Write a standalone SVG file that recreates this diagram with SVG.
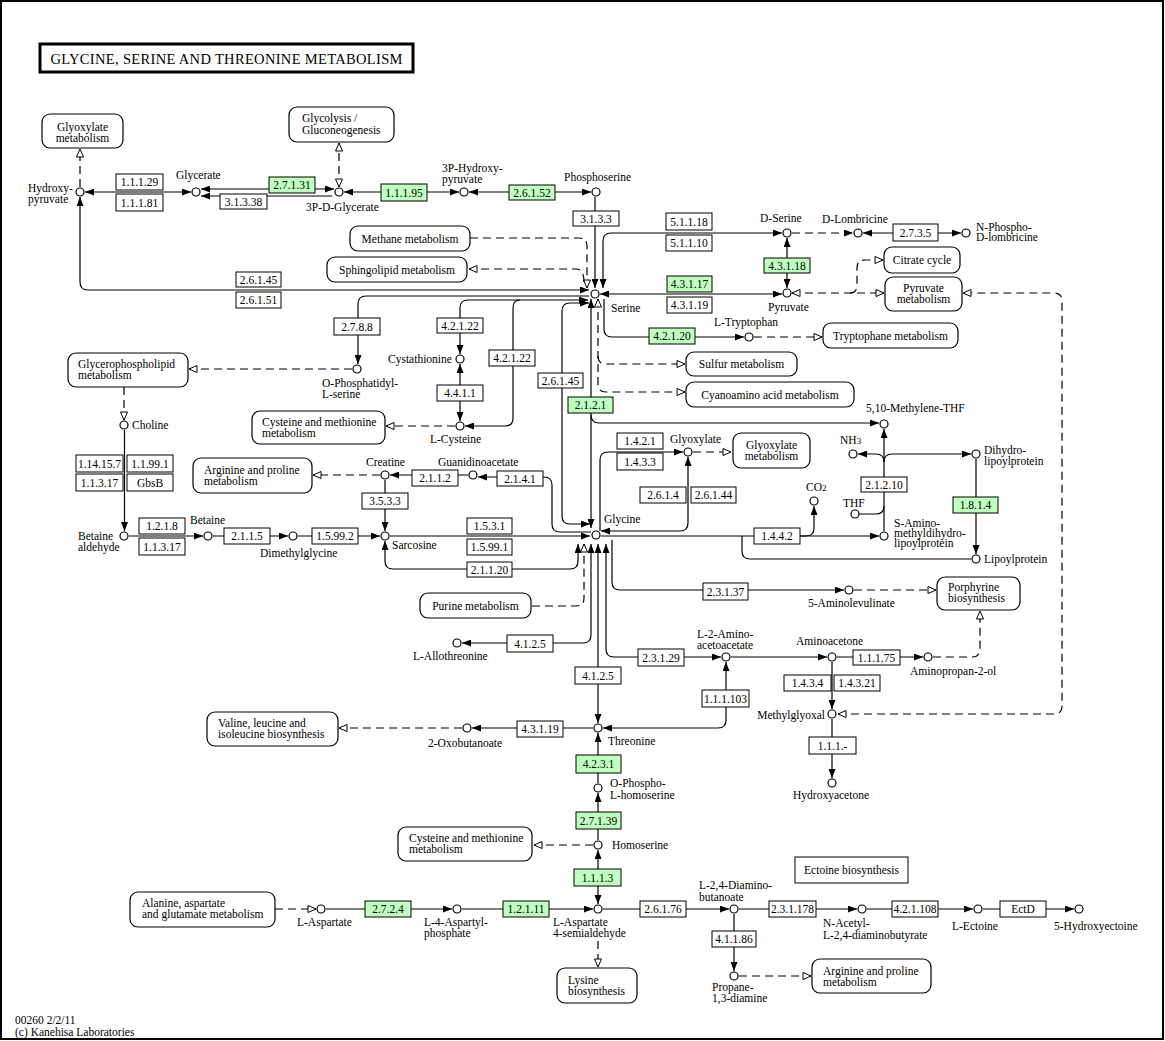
<svg xmlns="http://www.w3.org/2000/svg" width="1165" height="1041" viewBox="0 0 1165 1041">
<defs>
<style>
text{font-family:"Liberation Serif","Times New Roman",serif;font-size:11.5px;fill:#000}
.t{text-anchor:middle}
.r{text-anchor:end}
.ttl{font-size:14.5px}
.c{fill:#fff;stroke:#000;stroke-width:1.2}
.e{fill:#fff;stroke:#000;stroke-width:1}
.g{fill:#bfffbf;stroke:#000;stroke-width:1}
.m{fill:#fff;stroke:#000;stroke-width:1.2}
.ln{fill:none;stroke:#000;stroke-width:1.2}
.d{stroke-dasharray:8,5}
.fe{marker-end:url(#f)}
.fs{marker-start:url(#f)}
.oe{marker-end:url(#o)}
.os{marker-start:url(#o)}
</style>
<marker id="f" viewBox="0 0 9 7" refX="9" refY="3.5" markerWidth="9" markerHeight="7" markerUnits="userSpaceOnUse" orient="auto-start-reverse"><path d="M0,0L9,3.5L0,7z" fill="#000"/></marker>
<marker id="o" viewBox="-1 -1 10 9" refX="8" refY="3.5" markerWidth="10" markerHeight="9" markerUnits="userSpaceOnUse" orient="auto-start-reverse"><path d="M0,0L8,3.5L0,7z" fill="#fff" stroke="#000" stroke-width="1"/></marker>
</defs>
<rect x="0" y="0" width="1165" height="1041" fill="#fff"/>
<rect x="1" y="1" width="1162" height="1038" fill="none" stroke="#000" stroke-width="2"/>
<g id="title"><rect x="40" y="44" width="373" height="28" fill="#fff" stroke="#000" stroke-width="3"/><text x="226.5" y="64" class="t ttl" textLength="352" lengthAdjust="spacing">GLYCINE, SERINE AND THREONINE METABOLISM</text></g>

<g id="edges">
<path class="ln d oe" d="M80,187V149"/>
<path class="ln fs fe" d="M85,192H191"/>
<path class="ln fs fe" d="M201,189H334"/>
<path class="ln fs" d="M201,196H332"/>
<path class="ln d os oe" d="M339,187V143"/>
<path class="ln fs fe" d="M344,192H459"/>
<path class="ln fs fe" d="M469,192H591"/>
<path class="ln fe" d="M595,197V288"/>
<path class="ln fs fe" d="M603,288V241Q603,233 611,233H782"/>
<path class="ln d fe" d="M792,233H853"/>
<path class="ln fs fe" d="M863,233H961"/>
<path class="ln fs fe" d="M787,238V288"/>
<path class="ln fs fe" d="M600,294H782"/>
<path class="ln d os oe" d="M792,293H884"/>
<path class="ln d oe" d="M850,293Q857,293 857,285V268Q857,260 865,260H883"/>
<path class="ln fe" d="M604,299V329Q604,337 612,337H744"/>
<path class="ln d oe" d="M754,337H822"/>
<path class="ln d oe" d="M470,238H579Q587,238 587,246V288"/>
<path class="ln d oe" d="M584,282Q584,269 576,269H469"/>
<path class="ln fs fe" d="M80,197V282Q80,290 88,290H589"/>
<path class="ln fe" d="M589,296H366Q358,296 358,304V364"/>
<path class="ln d oe" d="M352,369H189"/>
<path class="ln d oe" d="M124,387V420"/>
<path class="ln fe" d="M124.5,430V531"/>
<path class="ln fe" d="M129,536H203"/>
<path class="ln fe" d="M213,536H288"/>
<path class="ln fe" d="M298,536H380"/>
<path class="ln fe" d="M385,480V531"/>
<path class="ln fe" d="M468,475H390"/>
<path class="ln fe" d="M591,532H560Q552,532 552,524V485Q552,477 544,477H478"/>
<path class="ln d oe" d="M380,475H313"/>
<path class="ln fe" d="M390,536H590"/>
<path class="ln fs fe" d="M385,541V561Q385,569 393,569H570Q578,569 578,561V544"/>
<path class="ln fs fe" d="M589,303H570Q562,303 562,311V516Q562,524 570,524H590"/>
<path class="ln fs fe" d="M591,299V528"/>
<path class="ln fe" d="M591,415Q591,423 599,423H879"/>
<path class="ln d os oe" d="M598,299V384Q598,392 606,392H685"/>
<path class="ln d oe" d="M598,356Q598,364 606,364H685"/>
<path class="ln fs fe" d="M588,300H468Q460,300 460,308V354"/>
<path class="ln fe" d="M520,300Q513,300 513,308V418Q513,426 505,426H465"/>
<path class="ln fs fe" d="M460,364V421"/>
<path class="ln d oe" d="M455,426H386"/>
<path class="ln fe" d="M600,531V460Q600,452 608,452H683"/>
<path class="ln fs fe" d="M688,457V523Q688,531 680,531H601"/>
<path class="ln d oe" d="M693,452H731"/>
<path class="ln fe" d="M601,536H879"/>
<path class="ln fe" d="M800,536H806Q814,536 814,528V506"/>
<path class="ln" d="M742,536V551Q742,559 750,559H971"/>
<path class="ln fe" d="M884,531V429"/>
<path class="ln fe" d="M884,462Q884,454 876,454H858"/>
<path class="ln fe" d="M884,462Q884,454 892,454H971"/>
<path class="ln" d="M859,514H876Q884,514 884,506"/>
<path class="ln fe" d="M976,459V554"/>
<path class="ln fe" d="M612,540V582Q612,590 620,590H844"/>
<path class="ln d oe" d="M854,590H936"/>
<path class="ln d oe" d="M532,606H576Q584,606 584,598V544"/>
<path class="ln fs fe" d="M591,544V635Q591,643 583,643H462"/>
<path class="ln fs fe" d="M598,544V723"/>
<path class="ln fs fe" d="M606,544V649Q606,657 614,657H721"/>
<path class="ln fs fe" d="M726,662V720Q726,728 718,728H603"/>
<path class="ln fe" d="M731,657H827"/>
<path class="ln fe" d="M837,657H923"/>
<path class="ln d oe" d="M933,657H972Q980,657 980,649V611"/>
<path class="ln fe" d="M832,662V709"/>
<path class="ln d os oe" d="M838,714H1054Q1062,714 1062,706V301Q1062,293 1054,293H963"/>
<path class="ln fe" d="M832,719V778"/>
<path class="ln fe" d="M593,728H472"/>
<path class="ln d oe" d="M462,728H339"/>
<path class="ln fe" d="M598,783V733"/>
<path class="ln fe" d="M598,840V793"/>
<path class="ln d oe" d="M593,845H534"/>
<path class="ln fs fe" d="M598,850V904"/>
<path class="ln d oe" d="M275,909H316"/>
<path class="ln fe" d="M326,909H452"/>
<path class="ln fe" d="M462,909H593"/>
<path class="ln d oe" d="M598,941V967"/>
<path class="ln fe" d="M603,909H729"/>
<path class="ln fe" d="M739,909H857"/>
<path class="ln fe" d="M867,909H973"/>
<path class="ln fe" d="M983,909H1074"/>
<path class="ln fe" d="M734,914V971"/>
<path class="ln d oe" d="M739,976H811"/>
</g>

<g id="maps">
<g id="map-glyoxylate1"><rect class="m" x="42" y="114" width="81" height="34" rx="8"/><text class="t" x="82.5" y="130.5">Glyoxylate</text><text class="t" x="82.5" y="141.5">metabolism</text></g>
<g id="map-glycolysis"><rect class="m" x="289" y="107" width="105" height="35" rx="8"/><text x="302" y="122">Glycolysis /</text><text x="302" y="134">Gluconeogenesis</text></g>
<g id="map-methane"><rect class="m" x="350" y="226" width="120" height="25" rx="8"/><text class="t" x="410" y="242.5">Methane metabolism</text></g>
<g id="map-sphingolipid"><rect class="m" x="327" y="257" width="140" height="25" rx="8"/><text class="t" x="397" y="273.5">Sphingolipid metabolism</text></g>
<g id="map-citrate"><rect class="m" x="884" y="247" width="76" height="26" rx="8"/><text class="t" x="922" y="264">Citrate cycle</text></g>
<g id="map-pyruvate"><rect class="m" x="885" y="277" width="77" height="34" rx="8"/><text class="t" x="923.5" y="292">Pyruvate</text><text class="t" x="923.5" y="303">metabolism</text></g>
<g id="map-tryptophane"><rect class="m" x="823" y="323" width="135" height="25" rx="8"/><text class="t" x="890.5" y="340">Tryptophane metabolism</text></g>
<g id="map-glycerophospholipid"><rect class="m" x="68" y="353" width="120" height="34" rx="8"/><text x="78" y="368">Glycerophospholipid</text><text x="78" y="379">metabolism</text></g>
<g id="map-sulfur"><rect class="m" x="686" y="352" width="111" height="24" rx="8"/><text class="t" x="741.5" y="368">Sulfur metabolism</text></g>
<g id="map-cyanoamino"><rect class="m" x="686" y="382" width="168" height="25" rx="8"/><text class="t" x="770" y="398.5">Cyanoamino acid metabolism</text></g>
<g id="map-cysmet1"><rect class="m" x="252" y="411" width="133" height="33" rx="8"/><text x="262" y="426">Cysteine and methionine</text><text x="262" y="437">metabolism</text></g>
<g id="map-glyoxylate2"><rect class="m" x="733" y="433" width="77" height="35" rx="8"/><text class="t" x="771.5" y="449">Glyoxylate</text><text class="t" x="771.5" y="460">metabolism</text></g>
<g id="map-argpro1"><rect class="m" x="193" y="458" width="119" height="35" rx="8"/><text x="204" y="474">Arginine and proline</text><text x="204" y="485">metabolism</text></g>
<g id="map-porphyrine"><rect class="m" x="937" y="577" width="83" height="33" rx="8"/><text x="948" y="591">Porphyrine</text><text x="948" y="602">biosynthesis</text></g>
<g id="map-purine"><rect class="m" x="420" y="593" width="111" height="25" rx="8"/><text class="t" x="475.5" y="609.5">Purine metabolism</text></g>
<g id="map-valine"><rect class="m" x="207" y="712" width="131" height="34" rx="8"/><text x="218" y="727">Valine, leucine and</text><text x="218" y="738">isoleucine biosynthesis</text></g>
<g id="map-cysmet2"><rect class="m" x="398" y="827" width="134" height="34" rx="8"/><text x="409" y="842">Cysteine and methionine</text><text x="409" y="853">metabolism</text></g>
<g id="map-alanine"><rect class="m" x="130" y="892" width="145" height="35" rx="8"/><text x="142" y="907">Alanine, aspartate</text><text x="142" y="918">and glutamate metabolism</text></g>
<g id="map-lysine"><rect class="m" x="557" y="968" width="80" height="35" rx="8"/><text x="568" y="984">Lysine</text><text x="568" y="995">biosynthesis</text></g>
<g id="map-argpro2"><rect class="m" x="812" y="959" width="119" height="34" rx="8"/><text x="823" y="975">Arginine and proline</text><text x="823" y="986">metabolism</text></g>
<g id="map-ectoine"><rect class="e" x="795" y="857" width="113" height="26"/><text class="t" x="851.5" y="874">Ectoine biosynthesis</text></g>
</g>

<g id="enzymes">
<g id="ec-1-1-1-29"><rect class="e" x="116" y="174" width="47" height="16"/><text class="t" x="139.5" y="186">1.1.1.29</text></g>
<g id="ec-1-1-1-81"><rect class="e" x="116" y="194" width="47" height="17"/><text class="t" x="139.5" y="206.5">1.1.1.81</text></g>
<g id="ec-2-7-1-31"><rect class="g" x="269" y="177" width="46" height="16"/><text class="t" x="292" y="189">2.7.1.31</text></g>
<g id="ec-3-1-3-38"><rect class="e" x="220" y="194" width="47" height="15"/><text class="t" x="243.5" y="205.5">3.1.3.38</text></g>
<g id="ec-1-1-1-95"><rect class="g" x="381" y="184" width="46" height="17"/><text class="t" x="404" y="196.5">1.1.1.95</text></g>
<g id="ec-2-6-1-52"><rect class="g" x="509" y="185" width="46" height="15"/><text class="t" x="532" y="196.5">2.6.1.52</text></g>
<g id="ec-3-1-3-3"><rect class="e" x="573" y="211" width="46" height="15"/><text class="t" x="596" y="222.5">3.1.3.3</text></g>
<g id="ec-5-1-1-18"><rect class="e" x="666" y="213" width="46" height="17"/><text class="t" x="689" y="225.5">5.1.1.18</text></g>
<g id="ec-5-1-1-10"><rect class="e" x="666" y="235" width="46" height="16"/><text class="t" x="689" y="247">5.1.1.10</text></g>
<g id="ec-4-3-1-18"><rect class="g" x="764" y="258" width="46" height="15"/><text class="t" x="787" y="269.5">4.3.1.18</text></g>
<g id="ec-2-7-3-5"><rect class="e" x="893" y="224" width="45" height="17"/><text class="t" x="915.5" y="236.5">2.7.3.5</text></g>
<g id="ec-4-3-1-17"><rect class="g" x="667" y="276" width="45" height="16"/><text class="t" x="689.5" y="288">4.3.1.17</text></g>
<g id="ec-4-3-1-19-a"><rect class="e" x="667" y="297" width="45" height="16"/><text class="t" x="689.5" y="309">4.3.1.19</text></g>
<g id="ec-2-6-1-45-a"><rect class="e" x="236" y="272" width="45" height="15"/><text class="t" x="258.5" y="283.5">2.6.1.45</text></g>
<g id="ec-2-6-1-51"><rect class="e" x="236" y="292" width="45" height="16"/><text class="t" x="258.5" y="304">2.6.1.51</text></g>
<g id="ec-2-7-8-8"><rect class="e" x="334" y="318" width="46" height="17"/><text class="t" x="357" y="330.5">2.7.8.8</text></g>
<g id="ec-4-2-1-22-a"><rect class="e" x="437" y="318" width="46" height="15"/><text class="t" x="460" y="329.5">4.2.1.22</text></g>
<g id="ec-4-2-1-20"><rect class="g" x="649" y="328" width="46" height="16"/><text class="t" x="672" y="340">4.2.1.20</text></g>
<g id="ec-4-2-1-22-b"><rect class="e" x="489" y="350" width="46" height="16"/><text class="t" x="512" y="362">4.2.1.22</text></g>
<g id="ec-2-6-1-45-b"><rect class="e" x="538" y="373" width="45" height="15"/><text class="t" x="560.5" y="384.5">2.6.1.45</text></g>
<g id="ec-4-4-1-1"><rect class="e" x="437" y="385" width="46" height="16"/><text class="t" x="460" y="397">4.4.1.1</text></g>
<g id="ec-2-1-2-1"><rect class="g" x="568" y="397" width="45" height="16"/><text class="t" x="590.5" y="409">2.1.2.1</text></g>
<g id="ec-1-4-2-1"><rect class="e" x="617" y="433" width="46" height="16"/><text class="t" x="640" y="445">1.4.2.1</text></g>
<g id="ec-1-4-3-3"><rect class="e" x="617" y="453" width="46" height="17"/><text class="t" x="640" y="465.5">1.4.3.3</text></g>
<g id="ec-1-14-15-7"><rect class="e" x="76" y="455" width="47" height="17"/><text class="t" x="99.5" y="467.5">1.14.15.7</text></g>
<g id="ec-1-1-99-1"><rect class="e" x="127" y="455" width="46" height="17"/><text class="t" x="150" y="467.5">1.1.99.1</text></g>
<g id="ec-1-1-3-17-a"><rect class="e" x="76" y="474" width="47" height="17"/><text class="t" x="99.5" y="486.5">1.1.3.17</text></g>
<g id="ec-gbsb"><rect class="e" x="127" y="474" width="46" height="17"/><text class="t" x="150" y="486.5">GbsB</text></g>
<g id="ec-2-1-1-2"><rect class="e" x="412" y="470" width="46" height="16"/><text class="t" x="435" y="482">2.1.1.2</text></g>
<g id="ec-2-1-4-1"><rect class="e" x="497" y="471" width="46" height="15"/><text class="t" x="520" y="482.5">2.1.4.1</text></g>
<g id="ec-2-6-1-4"><rect class="e" x="640" y="487" width="46" height="16"/><text class="t" x="663" y="499">2.6.1.4</text></g>
<g id="ec-2-6-1-44"><rect class="e" x="691" y="487" width="45" height="16"/><text class="t" x="713.5" y="499">2.6.1.44</text></g>
<g id="ec-3-5-3-3"><rect class="e" x="362" y="493" width="46" height="16"/><text class="t" x="385" y="505">3.5.3.3</text></g>
<g id="ec-2-1-2-10"><rect class="e" x="861" y="477" width="46" height="15"/><text class="t" x="884" y="488.5">2.1.2.10</text></g>
<g id="ec-1-8-1-4"><rect class="g" x="953" y="497" width="45" height="16"/><text class="t" x="975.5" y="509">1.8.1.4</text></g>
<g id="ec-1-2-1-8"><rect class="e" x="139" y="518" width="46" height="16"/><text class="t" x="162" y="530">1.2.1.8</text></g>
<g id="ec-1-1-3-17-b"><rect class="e" x="139" y="538" width="46" height="17"/><text class="t" x="162" y="550.5">1.1.3.17</text></g>
<g id="ec-1-5-3-1"><rect class="e" x="467" y="518" width="45" height="16"/><text class="t" x="489.5" y="530">1.5.3.1</text></g>
<g id="ec-1-5-99-1"><rect class="e" x="467" y="539" width="45" height="16"/><text class="t" x="489.5" y="551">1.5.99.1</text></g>
<g id="ec-2-1-1-5"><rect class="e" x="224" y="528" width="46" height="16"/><text class="t" x="247" y="540">2.1.1.5</text></g>
<g id="ec-1-5-99-2"><rect class="e" x="312" y="528" width="46" height="16"/><text class="t" x="335" y="540">1.5.99.2</text></g>
<g id="ec-1-4-4-2"><rect class="e" x="754" y="528" width="46" height="16"/><text class="t" x="777" y="540">1.4.4.2</text></g>
<g id="ec-2-1-1-20"><rect class="e" x="467" y="562" width="45" height="15"/><text class="t" x="489.5" y="573.5">2.1.1.20</text></g>
<g id="ec-2-3-1-37"><rect class="e" x="703" y="583" width="45" height="17"/><text class="t" x="725.5" y="595.5">2.3.1.37</text></g>
<g id="ec-4-1-2-5-a"><rect class="e" x="507" y="635" width="46" height="17"/><text class="t" x="530" y="647.5">4.1.2.5</text></g>
<g id="ec-2-3-1-29"><rect class="e" x="638" y="649" width="46" height="17"/><text class="t" x="661" y="661.5">2.3.1.29</text></g>
<g id="ec-1-1-1-75"><rect class="e" x="853" y="650" width="47" height="15"/><text class="t" x="876.5" y="661.5">1.1.1.75</text></g>
<g id="ec-4-1-2-5-b"><rect class="e" x="575" y="667" width="46" height="17"/><text class="t" x="598" y="679.5">4.1.2.5</text></g>
<g id="ec-1-4-3-4"><rect class="e" x="784" y="675" width="47" height="16"/><text class="t" x="807.5" y="687">1.4.3.4</text></g>
<g id="ec-1-4-3-21"><rect class="e" x="834" y="675" width="46" height="16"/><text class="t" x="857" y="687">1.4.3.21</text></g>
<g id="ec-1-1-1-103"><rect class="e" x="702" y="690" width="47" height="17"/><text class="t" x="725.5" y="702.5">1.1.1.103</text></g>
<g id="ec-4-3-1-19-b"><rect class="e" x="517" y="721" width="46" height="16"/><text class="t" x="540" y="733">4.3.1.19</text></g>
<g id="ec-1-1-1-x"><rect class="e" x="809" y="737" width="47" height="17"/><text class="t" x="832.5" y="749.5">1.1.1.-</text></g>
<g id="ec-4-2-3-1"><rect class="g" x="576" y="755" width="45" height="18"/><text class="t" x="598.5" y="768">4.2.3.1</text></g>
<g id="ec-2-7-1-39"><rect class="g" x="576" y="812" width="45" height="17"/><text class="t" x="598.5" y="824.5">2.7.1.39</text></g>
<g id="ec-1-1-1-3"><rect class="g" x="574" y="869" width="47" height="17"/><text class="t" x="597.5" y="881.5">1.1.1.3</text></g>
<g id="ec-2-7-2-4"><rect class="g" x="365" y="901" width="46" height="16"/><text class="t" x="388" y="913">2.7.2.4</text></g>
<g id="ec-1-2-1-11"><rect class="g" x="503" y="901" width="46" height="16"/><text class="t" x="526" y="913">1.2.1.11</text></g>
<g id="ec-2-6-1-76"><rect class="e" x="640" y="901" width="46" height="16"/><text class="t" x="663" y="913">2.6.1.76</text></g>
<g id="ec-2-3-1-178"><rect class="e" x="769" y="901" width="47" height="16"/><text class="t" x="792.5" y="913">2.3.1.178</text></g>
<g id="ec-4-2-1-108"><rect class="e" x="892" y="901" width="46" height="16"/><text class="t" x="915" y="913">4.2.1.108</text></g>
<g id="ec-ectd"><rect class="e" x="1000" y="901" width="46" height="16"/><text class="t" x="1023" y="913">EctD</text></g>
<g id="ec-4-1-1-86"><rect class="e" x="712" y="931" width="44" height="16"/><text class="t" x="734" y="943">4.1.1.86</text></g>
</g>

<g id="compounds">
<g id="c-hydroxypyruvate"><circle class="c" cx="80" cy="192" r="4"/><text x="28" y="192">Hydroxy-</text><text x="28" y="203">pyruvate</text></g>
<g id="c-glycerate"><circle class="c" cx="196" cy="192" r="4"/><text x="176" y="179">Glycerate</text></g>
<g id="c-3pg"><circle class="c" cx="339" cy="192" r="4"/><text x="306" y="211">3P-D-Glycerate</text></g>
<g id="c-3php"><circle class="c" cx="464" cy="192" r="4"/><text x="442" y="172">3P-Hydroxy-</text><text x="442" y="183">pyruvate</text></g>
<g id="c-phosphoserine"><circle class="c" cx="596" cy="192" r="4"/><text x="564" y="181">Phosphoserine</text></g>
<g id="c-serine"><circle class="c" cx="595" cy="294" r="4"/><text x="611" y="312">Serine</text></g>
<g id="c-dserine"><circle class="c" cx="787" cy="233" r="4"/><text x="760" y="222">D-Serine</text></g>
<g id="c-dlombricine"><circle class="c" cx="858" cy="233" r="4"/><text x="822" y="223">D-Lombricine</text></g>
<g id="c-nphospho"><circle class="c" cx="966" cy="233" r="4"/><text x="976" y="231">N-Phospho-</text><text x="976" y="241">D-lombricine</text></g>
<g id="c-pyruvate"><circle class="c" cx="787" cy="293" r="4"/><text x="768" y="311">Pyruvate</text></g>
<g id="c-ltryptophan"><circle class="c" cx="749" cy="337" r="4"/><text x="714" y="326">L-Tryptophan</text></g>
<g id="c-ophosphatidyl"><circle class="c" cx="357" cy="369" r="4"/><text x="322" y="387">O-Phosphatidyl-</text><text x="322" y="398">L-serine</text></g>
<g id="c-cystathionine"><circle class="c" cx="460" cy="359" r="4"/><text x="388" y="363">Cystathionine</text></g>
<g id="c-lcysteine"><circle class="c" cx="460" cy="426" r="4"/><text x="430" y="443">L-Cysteine</text></g>
<g id="c-choline"><circle class="c" cx="124" cy="425" r="4"/><text x="132" y="429">Choline</text></g>
<g id="c-creatine"><circle class="c" cx="385" cy="475" r="4"/><text x="366" y="466">Creatine</text></g>
<g id="c-guanidinoacetate"><circle class="c" cx="473" cy="475" r="4"/><text x="438" y="466">Guanidinoacetate</text></g>
<g id="c-glycine"><circle class="c" cx="596" cy="535" r="4"/><text x="604" y="523">Glycine</text></g>
<g id="c-sarcosine"><circle class="c" cx="385" cy="536" r="4"/><text x="392" y="549">Sarcosine</text></g>
<g id="c-betainealdehyde"><circle class="c" cx="124" cy="536" r="4"/><text x="78" y="540">Betaine</text><text x="78" y="551">aldehyde</text></g>
<g id="c-betaine"><circle class="c" cx="208" cy="536" r="4"/><text x="190" y="524">Betaine</text></g>
<g id="c-dimethylglycine"><circle class="c" cx="293" cy="536" r="4"/><text x="260" y="557">Dimethylglycine</text></g>
<g id="c-glyoxylate"><circle class="c" cx="688" cy="452" r="4"/><text x="670" y="443">Glyoxylate</text></g>
<g id="c-mthf"><circle class="c" cx="884" cy="424" r="4"/><text x="866" y="412">5,10-Methylene-THF</text></g>
<g id="c-nh3"><circle class="c" cx="853" cy="454" r="4"/><text x="840" y="444">NH<tspan font-size="9">3</tspan></text></g>
<g id="c-dihydrolipoylprotein"><circle class="c" cx="976" cy="454" r="4"/><text x="984" y="454">Dihydro-</text><text x="984" y="465">lipoylprotein</text></g>
<g id="c-co2"><circle class="c" cx="814" cy="501" r="4"/><text x="806" y="491">CO<tspan font-size="9">2</tspan></text></g>
<g id="c-thf"><circle class="c" cx="855" cy="514" r="4"/><text x="843" y="507">THF</text></g>
<g id="c-saminomethyl"><circle class="c" cx="884" cy="536" r="4"/><text x="894" y="527">S-Amino-</text><text x="894" y="537">methyldihydro-</text><text x="894" y="547">lipoylprotein</text></g>
<g id="c-lipoylprotein"><circle class="c" cx="976" cy="559" r="4"/><text x="984" y="563">Lipoylprotein</text></g>
<g id="c-aminolevulinate"><circle class="c" cx="849" cy="590" r="4"/><text x="808" y="607">5-Aminolevulinate</text></g>
<g id="c-lallothreonine"><circle class="c" cx="457" cy="643" r="4"/><text x="413" y="660">L-Allothreonine</text></g>
<g id="c-aminoacetoacetate"><circle class="c" cx="726" cy="657" r="4"/><text x="697" y="638">L-2-Amino-</text><text x="697" y="649">acetoacetate</text></g>
<g id="c-aminoacetone"><circle class="c" cx="832" cy="657" r="4"/><text x="796" y="645">Aminoacetone</text></g>
<g id="c-aminopropanol"><circle class="c" cx="928" cy="657" r="4"/><text x="910" y="675">Aminopropan-2-ol</text></g>
<g id="c-methylglyoxal"><circle class="c" cx="832" cy="714" r="4"/><text class="r" x="825" y="719">Methylglyoxal</text></g>
<g id="c-hydroxyacetone"><circle class="c" cx="832" cy="783" r="4"/><text x="793" y="799">Hydroxyacetone</text></g>
<g id="c-threonine"><circle class="c" cx="598" cy="728" r="4"/><text x="608" y="745">Threonine</text></g>
<g id="c-oxobutanoate"><circle class="c" cx="467" cy="728" r="4"/><text x="428" y="747">2-Oxobutanoate</text></g>
<g id="c-ophosphohomoserine"><circle class="c" cx="598" cy="788" r="4"/><text x="610" y="787">O-Phospho-</text><text x="610" y="799">L-homoserine</text></g>
<g id="c-homoserine"><circle class="c" cx="598" cy="845" r="4"/><text x="612" y="849">Homoserine</text></g>
<g id="c-aspsemialdehyde"><circle class="c" cx="598" cy="909" r="4"/><text x="553" y="926">L-Aspartate</text><text x="553" y="937">4-semialdehyde</text></g>
<g id="c-laspartate"><circle class="c" cx="321" cy="909" r="4"/><text x="297" y="926">L-Aspartate</text></g>
<g id="c-aspartylphosphate"><circle class="c" cx="457" cy="909" r="4"/><text x="424" y="926">L-4-Aspartyl-</text><text x="424" y="937">phosphate</text></g>
<g id="c-diaminobutanoate"><circle class="c" cx="734" cy="909" r="4"/><text x="699" y="889">L-2,4-Diamino-</text><text x="699" y="901">butanoate</text></g>
<g id="c-nacetyl"><circle class="c" cx="862" cy="909" r="4"/><text x="823" y="927">N-Acetyl-</text><text x="823" y="939">L-2,4-diaminobutyrate</text></g>
<g id="c-lectoine"><circle class="c" cx="978" cy="909" r="4"/><text x="952" y="930">L-Ectoine</text></g>
<g id="c-hydroxyectoine"><circle class="c" cx="1079" cy="909" r="4"/><text x="1054" y="930">5-Hydroxyectoine</text></g>
<g id="c-propanediamine"><circle class="c" cx="734" cy="976" r="4"/><text x="712" y="991">Propane-</text><text x="712" y="1002">1,3-diamine</text></g>
</g>

<g id="footer"><text x="15" y="1024">00260 2/2/11</text><text x="15" y="1036">(c) Kanehisa Laboratories</text></g>
</svg>
